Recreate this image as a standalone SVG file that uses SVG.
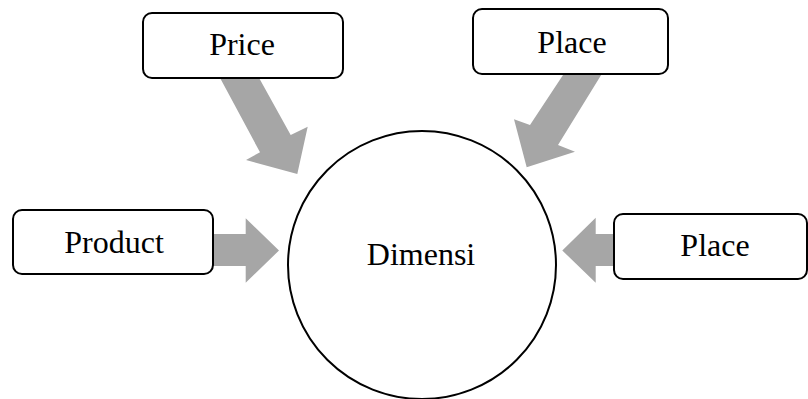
<svg xmlns="http://www.w3.org/2000/svg" width="808" height="399" viewBox="0 0 808 399">
<style>
.box{fill:#fff;stroke:#000;stroke-width:2}
.arrow{fill:#a6a6a6;stroke:none}
.lbl{font-size:32px;fill:#000;text-anchor:middle}
</style>
<rect width="808" height="399" fill="#fff"/>
<g id="connectors">
<polygon class="arrow" points="219,76 258,76 290.7,135 307.7,126.7 297.3,174 246,160 260,152.3"/>
<polygon class="arrow" points="565,72 603,72 558,145 575,151.7 526.7,167.3 514,119.3 530,125"/>
<polygon class="arrow" points="210,234 245.7,234 245.7,218.3 279,250.5 245.7,282.7 245.7,266 210,266"/>
<polygon class="arrow" points="617,234 595.7,234 595.7,217.8 562.3,250.5 595.7,282.7 595.7,266 617,266"/>
</g>
<g id="node-dimensi">
<circle class="box" cx="422" cy="265" r="134"/>
<text class="lbl" font-family="Liberation Serif, DejaVu Serif, serif" x="421" y="265">Dimensi</text>
</g>
<g id="node-price">
<rect class="box" x="143" y="13" width="200" height="65" rx="9"/>
<text class="lbl" font-family="Liberation Serif, DejaVu Serif, serif" x="242" y="55">Price</text>
</g>
<g id="node-place-top">
<rect class="box" x="473" y="9" width="195" height="65" rx="9"/>
<text class="lbl" font-family="Liberation Serif, DejaVu Serif, serif" x="572" y="53">Place</text>
</g>
<g id="node-product">
<rect class="box" x="13" y="210" width="200" height="64" rx="9"/>
<text class="lbl" font-family="Liberation Serif, DejaVu Serif, serif" x="114" y="253">Product</text>
</g>
<g id="node-place-right">
<rect class="box" x="614" y="214" width="193" height="65" rx="9"/>
<text class="lbl" font-family="Liberation Serif, DejaVu Serif, serif" x="715" y="256">Place</text>
</g>
</svg>
